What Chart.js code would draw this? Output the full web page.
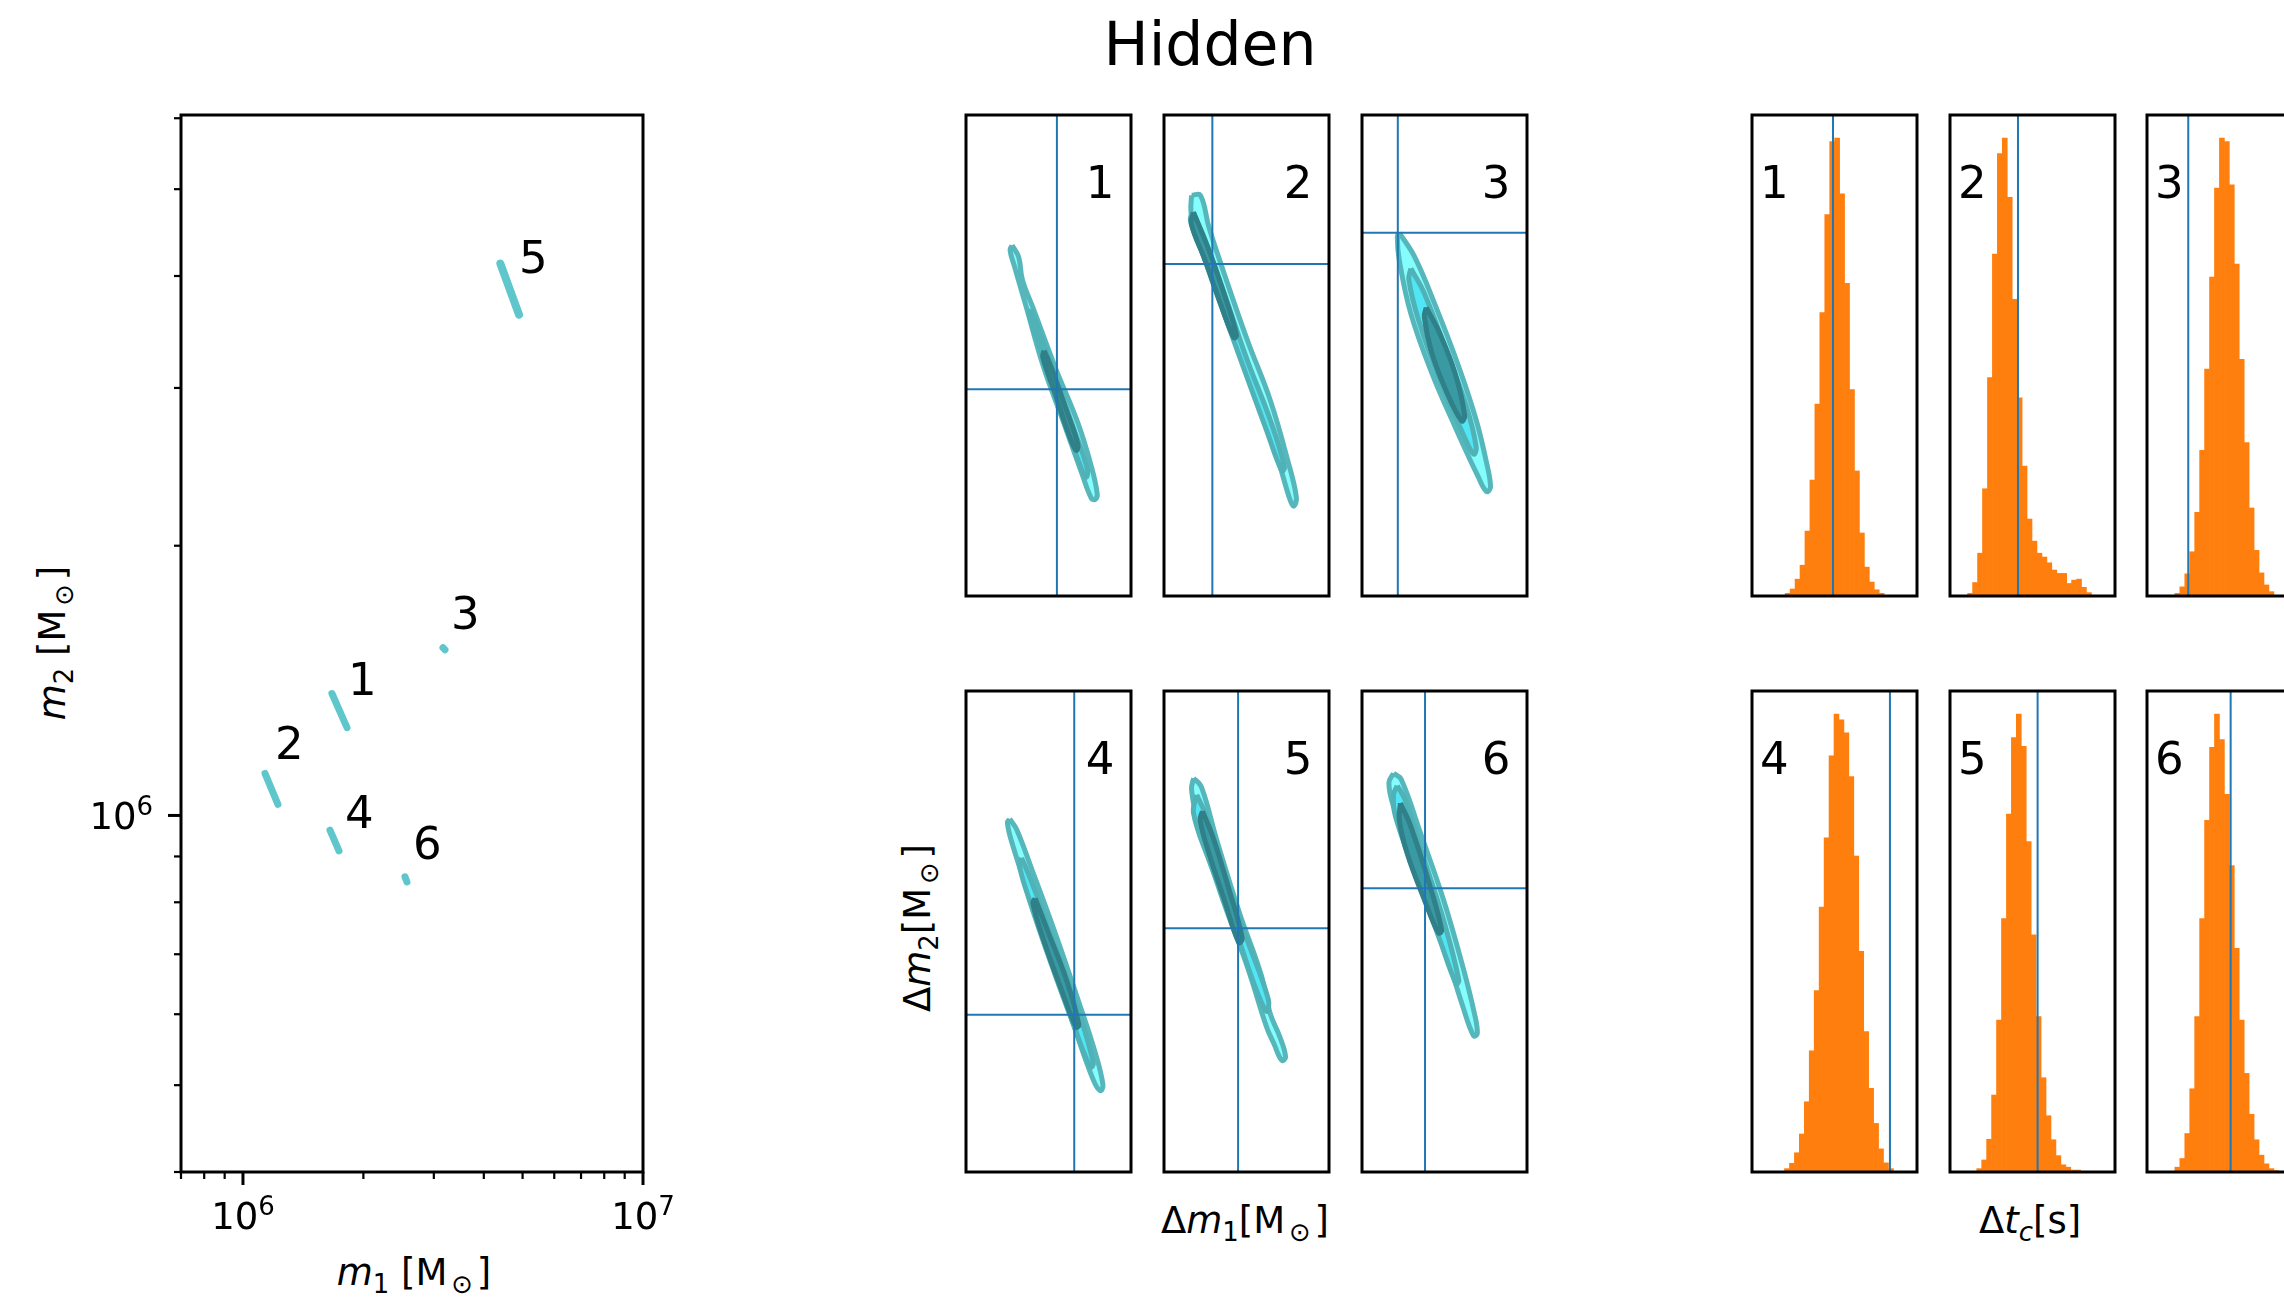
<!DOCTYPE html>
<html>
<head>
<meta charset="utf-8">
<script src="https://cdn.jsdelivr.net/npm/chart.js@4.4.1/dist/chart.umd.min.js"></script>
<style>
  body { margin: 0; width: 2284px; height: 1299px; overflow: hidden; background: #fff; position: relative; font-family: 'DejaVu Sans'; }
  canvas { position: absolute; }
  .lbl { position: absolute; white-space: nowrap; line-height: 1; font-size: 37px; color: #000; transform: translate(-50%, -50%); }
  .rot { transform: translate(-50%, -50%) rotate(-90deg); }
  .sub { font-size: 0.7em; position: relative; top: 0.3em; }
  .sub.sp { margin: 0 0.15em; }
</style>
</head>
<body>
<div class="lbl" style="left:1210px; top:44px; font-size:60px;">Hidden</div>
<div class="lbl" style="left:414px; top:1272px;"><i>m</i><span class="sub">1</span> [M<span class="sub sp">⊙</span>]</div>
<div class="lbl rot" style="left:52px; top:643px;"><i>m</i><span class="sub">2</span> [M<span class="sub sp">⊙</span>]</div>
<div class="lbl" style="left:1245px; top:1220px;">Δ<i>m</i><span class="sub">1</span>[M<span class="sub sp">⊙</span>]</div>
<div class="lbl rot" style="left:917px; top:928px;">Δ<i>m</i><span class="sub">2</span>[M<span class="sub sp">⊙</span>]</div>
<div class="lbl" style="left:2030px; top:1220px;">Δ<i>t</i><span class="sub"><i>c</i></span>[s]</div>
<canvas id="massChart" width="700" height="1299" style="left:0; top:0;"></canvas>
<script>
// ---- left panel: (m1, m2) of each source, each contour is a thin streak given by its two ends
const sourceIds = ['1', '2', '3', '4', '5', '6'];
const m1Ends = [[1.669e6, 1.820e6], [1.135e6, 1.223e6], [3.162e6, 3.199e6], [1.650e6, 1.738e6], [4.40e6, 4.898e6], [2.541e6, 2.570e6]];
const m2Ends = [[1.368e6, 1.253e6], [1.114e6, 1.029e6], [1.539e6, 1.531e6], [9.63e5, 9.13e5], [4.13e6, 3.622e6], [8.54e5, 8.43e5]];
const labelM1 = [1.830e6, 1.202e6, 3.311e6, 1.799e6, 4.898e6, 2.661e6];
const labelM2 = [1.364e6, 1.155e6, 1.616e6, 9.68e5, 4.032e6, 8.94e5];
const m1TickValues = [1e6, 1e7];
const m1TickLabels = [['10', '6'], ['10', '7']];   // base, exponent
const m2TickValues = [1e6];
const m2TickLabels = [['10', '6']];

// ---- middle panels: (Δm1, Δm2) contours, in panel units (0..100 on both axes)
const contourOuter = [
  [[27.9,72.9],[31.9,70.5],[34.2,65.7],[41.2,59.4],[54.0,47.6],[67.9,35.9],[76.0,26.9],[79.5,21.3],[78.4,20.1],[76.0,20.3],[70.2,25.5],[58.6,36.6],[47.0,47.6],[36.5,60.1],[29.5,68.4],[26.7,71.9]],
  [[16.7,83.3],[22.1,83.3],[27.2,76.7],[36.5,67.0],[50.5,53.2],[64.4,40.7],[74.9,28.3],[80.2,20.6],[78.8,18.7],[76.5,19.9],[69.1,28.3],[55.1,42.1],[41.2,56.0],[27.2,68.4],[17.9,76.7],[16.3,80.2]],
  [[22.6,75.5],[31.9,70.5],[44.8,60.1],[58.7,47.6],[69.2,36.6],[75.1,28.3],[77.9,22.7],[75.5,21.7],[70.4,24.8],[56.4,35.2],[42.4,46.3],[29.6,58.7],[22.6,69.8],[21.4,74.7]],
  [[26.5,73.4],[30.7,71.2],[40.0,62.8],[54.0,49.7],[67.9,35.8],[78.4,24.7],[83.0,18.1],[81.4,16.9],[77.2,19.1],[65.6,30.2],[51.6,44.1],[37.7,58.0],[27.9,68.4],[25.1,72.6]],
  [[17.9,81.9],[22.6,80.1],[31.9,69.1],[45.8,53.8],[58.6,41.3],[64.4,32.9],[70.2,28.1],[73.7,23.9],[71.4,23.2],[66.7,26.6],[62.1,30.2],[50.5,42.7],[34.2,58.0],[20.2,73.3],[16.7,79.5]],
  [[19.1,82.9],[23.8,81.6],[35.4,70.5],[49.4,56.6],[61.1,42.7],[68.1,33.0],[69.9,28.8],[67.6,28.3],[61.1,34.4],[47.1,49.7],[33.1,63.5],[19.1,76.0],[16.3,80.9]]
];
const contourMiddle = [
  [[39.5,59.6],[43.5,56.0],[54.0,45.6],[65.6,34.5],[73.7,26.2],[72.6,24.7],[67.9,28.3],[56.3,39.3],[44.7,51.8],[38.1,58.7]],
  [[17.2,79.8],[24.9,74.0],[36.5,62.9],[50.5,49.0],[64.4,36.6],[73.0,26.9],[71.4,26.0],[62.1,34.5],[48.1,47.6],[34.2,60.8],[22.6,71.9],[16.0,78.1]],
  [[29.6,68.1],[37.8,62.9],[51.7,50.4],[63.4,39.3],[69.2,31.0],[67.6,29.5],[61.1,33.8],[47.1,44.9],[34.3,57.3],[28.4,65.7]],
  [[33.7,65.3],[40.0,60.1],[54.0,46.9],[67.9,33.7],[77.2,22.6],[75.3,21.8],[65.6,30.2],[51.6,43.3],[37.7,57.3],[32.3,63.9]],
  [[19.8,78.4],[24.9,74.6],[36.5,62.1],[50.5,48.2],[63.3,35.8],[62.1,33.4],[55.1,38.6],[41.2,52.5],[27.2,64.9],[17.9,74.6]],
  [[21.4,80.3],[26.1,77.4],[37.8,64.9],[49.4,52.4],[58.7,39.9],[57.1,39.1],[47.1,48.3],[33.1,61.4],[20.3,73.9],[19.1,78.4]]
];
const contourInner = [
  [[47.4,51.0],[51.6,47.6],[60.9,38.6],[67.9,31.4],[66.7,30.3],[62.1,33.8],[54.0,42.1],[46.5,49.7]],
  [[17.9,79.8],[27.2,71.9],[37.7,61.5],[44.0,54.2],[42.3,53.7],[34.2,60.8],[24.9,69.8],[16.5,77.4]],
  [[38.9,60.0],[47.1,54.6],[56.4,46.3],[62.2,37.6],[60.4,36.4],[51.7,42.1],[42.4,50.4],[37.8,58.0]],
  [[41.9,56.9],[49.3,50.3],[60.9,39.9],[68.4,30.6],[66.7,30.1],[58.6,37.2],[47.0,48.3],[40.5,55.9]],
  [[23.3,75.0],[29.5,69.8],[38.8,59.4],[47.4,48.6],[45.3,47.7],[36.5,56.6],[27.2,66.3],[21.9,73.2]],
  [[23.3,76.7],[29.6,71.8],[40.1,60.7],[48.3,50.3],[46.4,49.7],[37.8,56.6],[27.3,66.3],[22.6,73.2]]
];
const truthDm1 = [55.1, 29.3, 21.7, 65.6, 44.9, 38.2];
const truthDm2 = [43.0, 69.0, 75.5, 32.7, 50.7, 59.0];

// ---- right panels: Δt_c histograms (bar heights in % of panel height)
const hist1 = [0.55,1.45,3.5,6.4,13.5,24.1,39.9,58.9,79.3,94.5,95.2,83.6,65.0,42.9,26.0,13.1,6.0,2.9,1.3,0.55];
const hist2 = [0.55,2.8,8.9,22.3,45.4,71.1,92.0,95.2,82.9,61.7,41.2,27.0,16.0,11.4,8.9,8.1,6.9,5.4,4.7,4.7,2.6,3.3,3.5,1.8,0.7];
const hist3 = [0.55,1.9,4.6,9.2,17.4,30.3,47.2,66.3,84.8,95.2,94.5,85.5,69.0,49.2,31.9,18.3,9.5,4.8,2.3,0.9];
const hist4 = [0.7,1.8,4.0,7.9,14.6,25.2,37.7,55.1,69.5,86.5,95.2,94.0,91.3,82.2,65.7,45.9,29.2,17.4,10.1,4.8,1.9,0.7];
const hist5 = [0.7,2.5,6.8,16.0,31.6,52.7,74.4,90.3,95.2,88.5,68.7,49.3,32.3,19.6,11.7,6.7,3.4,1.5,1.0,0.4,0.4];
const hist6 = [1.0,2.8,8.0,17.3,32.3,52.7,73.1,88.3,95.2,89.9,78.5,63.7,46.5,31.6,20.5,12.0,6.7,3.5,1.7,0.7,0.3];
const histStart = [20.1, 10.7, 16.9, 19.7, 16.2, 16.9];   // left edge of first bin
const binWidth = 3.0;
const truthTc = [49.1, 41.2, 25.0, 83.6, 53.1, 50.7];

const FONT = 'DejaVu Sans';
const teal = '#5fc7cb';
const blue = '#1f77b4';

// black frame around the plot area
const frame = {
  id: 'frame',
  afterDraw(chart) {
    const a = chart.chartArea, ctx = chart.ctx;
    ctx.save();
    ctx.strokeStyle = '#000';
    ctx.lineWidth = 3;
    ctx.strokeRect(a.left, a.top, a.right - a.left, a.bottom - a.top);
    ctx.restore();
  }
};

// outward major/minor ticks of the log axes (at the ticks chart.js generated) and 10^n labels
const logTicks = {
  id: 'logTicks',
  afterDraw(chart) {
    const ctx = chart.ctx, a = chart.chartArea;
    ctx.save();
    ctx.strokeStyle = '#000';
    for (const id of ['x', 'y']) {
      const s = chart.scales[id];
      for (const t of s.ticks) {
        const e = Math.floor(Math.log10(t.value) + 1e-9);
        const sig = t.value / Math.pow(10, e);
        if (Math.abs(sig - Math.round(sig)) > 1e-6) continue;
        const major = Math.round(sig) === 1;
        const len = major ? 13 : 7;
        ctx.lineWidth = major ? 3 : 2.2;
        const p = s.getPixelForValue(t.value);
        ctx.beginPath();
        if (id === 'x') { ctx.moveTo(p, a.bottom); ctx.lineTo(p, a.bottom + len); }
        else { ctx.moveTo(a.left, p); ctx.lineTo(a.left - len, p); }
        ctx.stroke();
      }
    }
    // tick labels: base + raised exponent
    ctx.fillStyle = '#000';
    ctx.textBaseline = 'alphabetic';
    ctx.textAlign = 'left';
    const draw = (lab, xLeft, base) => {
      ctx.font = '37px "' + FONT + '"';
      ctx.fillText(lab[0], xLeft, base);
      const w = ctx.measureText(lab[0]).width;
      ctx.font = '26px "' + FONT + '"';
      ctx.fillText(lab[1], xLeft + w, base - 14);
    };
    const width = lab => {
      ctx.font = '37px "' + FONT + '"';
      const w0 = ctx.measureText(lab[0]).width;
      ctx.font = '26px "' + FONT + '"';
      return w0 + ctx.measureText(lab[1]).width;
    };
    m1TickValues.forEach((v, i) => {
      const p = chart.scales.x.getPixelForValue(v);
      draw(m1TickLabels[i], p - width(m1TickLabels[i]) / 2, a.bottom + 57);
    });
    m2TickValues.forEach((v, i) => {
      const p = chart.scales.y.getPixelForValue(v);
      draw(m2TickLabels[i], a.left - 28 - width(m2TickLabels[i]), p + 14);
    });
    ctx.restore();
  }
};

// numbers written at data positions
const panelText = {
  id: 'panelText',
  afterDatasetsDraw(chart, args, opts) {
    const ctx = chart.ctx;
    ctx.save();
    ctx.fillStyle = '#000';
    ctx.font = opts.size + 'px "' + FONT + '"';
    ctx.textBaseline = 'alphabetic';
    ctx.textAlign = opts.align;
    opts.items.forEach(it => {
      ctx.fillText(it.text, chart.scales.x.getPixelForValue(it.x), chart.scales.y.getPixelForValue(it.y));
    });
    ctx.restore();
  }
};

new Chart(document.getElementById('massChart'), {
  type: 'scatter',
  data: {
    datasets: sourceIds.map((id, i) => ({
      data: [{x: m1Ends[i][0], y: m2Ends[i][0]}, {x: m1Ends[i][1], y: m2Ends[i][1]}],
      showLine: true,
      borderColor: teal,
      borderWidth: id === '5' ? 8 : 7,
      borderCapStyle: 'round',
      pointRadius: 0
    }))
  },
  options: {
    responsive: false,
    animation: false,
    devicePixelRatio: 1,
    layout: {padding: {top: 115, right: 57, left: 0, bottom: 0}},
    plugins: {
      legend: {display: false},
      tooltip: {enabled: false},
      panelText: {size: 45, align: 'left', items: sourceIds.map((id, i) => ({text: id, x: labelM1[i], y: labelM2[i]}))}
    },
    scales: {
      x: {
        type: 'logarithmic', min: 7e5, max: 1e7,
        grid: {display: false, drawTicks: false},
        border: {display: false},
        ticks: {display: false},
        afterFit: s => { s.height = 127; }
      },
      y: {
        type: 'logarithmic', min: 4e5, max: 6.05e6,
        grid: {display: false, drawTicks: false},
        border: {display: false},
        ticks: {display: false},
        afterFit: s => { s.width = 181; }
      }
    }
  },
  plugins: [frame, logTicks, panelText]
});

// ---- small panels
const colLeftMid = [966, 1164, 1362];
const colLeftHist = [1752, 1950, 2147];
const rowTop = [115, 691];
const PW = 165, PH = 481, PAD = 4;

function addCanvas(left, top) {
  const c = document.createElement('canvas');
  c.width = PW + 2 * PAD;
  c.height = PH + 2 * PAD;
  c.style.left = (left - PAD) + 'px';
  c.style.top = (top - PAD) + 'px';
  document.body.appendChild(c);
  return c;
}

function closed(pts) {
  const d = pts.map(p => ({x: p[0], y: p[1]}));
  d.push({x: pts[0][0], y: pts[0][1]});
  return d;
}

const panelScales = {
  x: {type: 'linear', min: 0, max: 100, display: false, offset: false},
  y: {type: 'linear', min: 0, max: 100, display: false}
};

for (let i = 0; i < 6; i++) {
  const row = Math.floor(i / 3), col = i % 3;
  const contour = (pts, fillColor, lineColor) => ({
    data: closed(pts), showLine: true, fill: 'shape',
    backgroundColor: fillColor, borderColor: lineColor, borderWidth: 5,
    borderJoinStyle: 'round', tension: 0.4, pointRadius: 0
  });
  new Chart(addCanvas(colLeftMid[col], rowTop[row]), {
    type: 'scatter',
    data: {
      datasets: [
        {data: [{x: 0, y: truthDm2[i]}, {x: 100, y: truthDm2[i]}], showLine: true, borderColor: blue, borderWidth: 2, pointRadius: 0},
        {data: [{x: truthDm1[i], y: 0}, {x: truthDm1[i], y: 100}], showLine: true, borderColor: blue, borderWidth: 2, pointRadius: 0},
        contour(contourInner[i], '#3a9aa4', '#2f8088'),
        contour(contourMiddle[i], '#50e6f6', '#4fb2b7'),
        contour(contourOuter[i], '#84fdfd', '#55b7bb')
      ]
    },
    options: {
      responsive: false, animation: false, devicePixelRatio: 1,
      layout: {padding: PAD},
      plugins: {legend: {display: false}, tooltip: {enabled: false},
                panelText: {size: 45, align: 'right', items: [{text: sourceIds[i], x: 90, y: 82.8}]}},
      scales: panelScales
    },
    plugins: [frame, panelText]
  });
}

const hists = [hist1, hist2, hist3, hist4, hist5, hist6];
for (let i = 0; i < 6; i++) {
  const row = Math.floor(i / 3), col = i % 3;
  new Chart(addCanvas(colLeftHist[col], rowTop[row]), {
    type: 'bar',
    data: {
      datasets: [
        {type: 'line', data: [{x: truthTc[i], y: 0}, {x: truthTc[i], y: 100}], borderColor: blue, borderWidth: 2, pointRadius: 0},
        {type: 'bar', data: hists[i].map((v, k) => ({x: histStart[i] + binWidth * (k + 0.5), y: v})),
         backgroundColor: '#ff7f0e', borderWidth: 0, categoryPercentage: 1, barPercentage: 1}
      ]
    },
    options: {
      responsive: false, animation: false, devicePixelRatio: 1,
      layout: {padding: PAD},
      plugins: {legend: {display: false}, tooltip: {enabled: false},
                panelText: {size: 45, align: 'left', items: [{text: sourceIds[i], x: 4.8, y: 82.8}]}},
      scales: panelScales
    },
    plugins: [frame, panelText]
  });
}
</script>
</body>
</html>
